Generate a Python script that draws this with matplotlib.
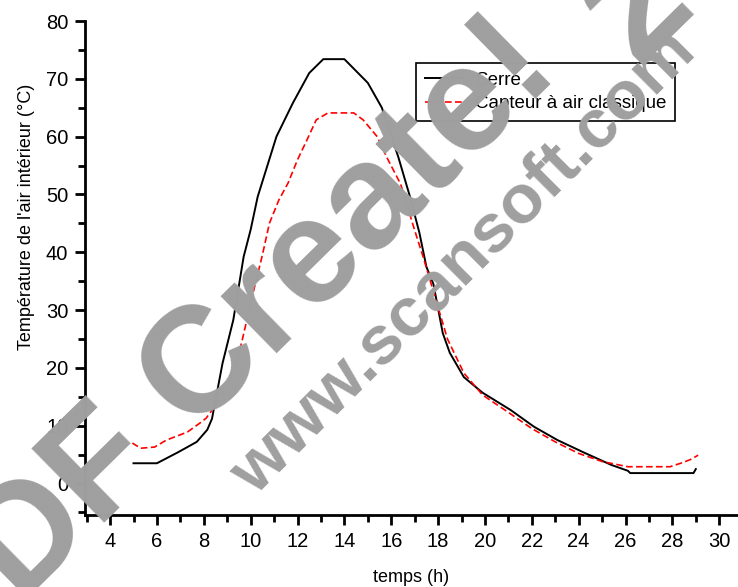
import matplotlib
matplotlib.use('Agg')
import matplotlib.pyplot as plt
from matplotlib.ticker import MultipleLocator

# Serre (courbe noire)
serre_t = [5.0, 6.0, 6.9, 7.7, 8.15, 8.35, 8.8, 9.26, 9.7, 10.0, 10.3, 11.1, 11.8,
           12.5, 13.1, 14.0, 15.0, 15.6, 16.3, 16.8, 17.2, 17.5, 17.8, 18.2, 18.5,
           19.1, 19.9, 21.1, 22.1, 23.1, 24.2, 25.4, 26.1, 26.2, 28.9, 29.0]
serre_T = [3.5, 3.5, 5.4, 7.2, 9.3, 11.2, 20.8, 28.3, 39.2, 43.9, 49.6, 60.0, 65.8,
           71.0, 73.4, 73.4, 69.3, 65.0, 56.5, 49.6, 43.4, 37.5, 34.5, 26.0, 22.6,
           18.4, 15.7, 12.7, 9.8, 7.5, 5.4, 3.2, 2.2, 1.8, 1.8, 2.5]

# Capteur a air classique (courbe rouge)
capteur_t = [4.95, 5.3, 5.9, 6.4, 7.3, 7.85, 8.1, 8.5, 9.0, 9.4, 9.64, 9.77, 10.1,
             10.5, 10.8, 11.2, 11.6, 12.0, 12.4, 12.8, 13.3, 14.4, 14.8, 15.4, 15.8,
             16.4, 17.0, 17.4, 17.8, 18.4, 19.1, 19.9, 21.0, 22.0, 23.0, 24.0, 25.0,
             26.1, 27.9, 28.5, 28.8, 29.1]
capteur_T = [7.0, 6.1, 6.3, 7.5, 8.9, 10.5, 11.3, 13.5, 17.0, 21.0, 24.8, 27.1, 32.9,
             39.5, 45.0, 49.0, 52.0, 56.0, 59.4, 62.9, 64.1, 64.1, 62.9, 60.0, 56.5,
             51.8, 43.8, 38.7, 33.2, 25.0, 19.1, 15.3, 12.3, 9.5, 7.2, 5.2, 3.8,
             2.9, 2.9, 3.7, 4.2, 4.9]

plt.rcParams['font.family'] = ['Liberation Sans', 'DejaVu Sans']

fig = plt.figure(figsize=(7.38, 5.87), dpi=100)
ax = fig.add_axes([85 / 738, 1 - 515 / 587, 653 / 738, 494 / 587])

ax.plot(serre_t, serre_T, color='black', lw=1.4, label='Serre')
ax.plot(capteur_t, capteur_T, color='red', lw=1.2, ls=(0, (4, 2)),
        label='Capteur à air classique')

ax.set_xlim(2.93, 30.8)
ax.set_ylim(-5.45, 80)
ax.set_xticks(range(4, 31, 2))
ax.set_yticks(range(0, 81, 10))
ax.xaxis.set_minor_locator(MultipleLocator(1))
ax.yaxis.set_minor_locator(MultipleLocator(5))

for s in ['top', 'right']:
    ax.spines[s].set_visible(False)
for s in ['left', 'bottom']:
    ax.spines[s].set_linewidth(2)
ax.tick_params(which='major', length=7, width=2, labelsize=14.5, pad=5)
ax.tick_params(which='minor', length=5, width=2)

ax.set_xlabel('temps (h)', fontsize=13)
ax.set_ylabel("Température de l'air intérieur (°C)", fontsize=13)
ax.xaxis.set_label_coords(0.50, -0.109)
ax.yaxis.set_label_coords(-0.077, 0.603)

leg = ax.legend(loc='upper left', bbox_to_anchor=(0.507, 0.915), borderaxespad=0,
                fancybox=False, edgecolor='black', framealpha=1, fontsize=13.5,
                handlelength=2.0, handletextpad=0.7, labelspacing=0.35,
                borderpad=0.45)
leg.get_frame().set_linewidth(1.2)

# filigrane du PDF
wm = dict(weight='bold', color='#9f9f9f', rotation=44.5, rotation_mode='anchor', zorder=10)
fig.text(-51 / 738, 1 - 675 / 587, 'PDF Create!', fontsize=108, ha='left', va='baseline', **wm)
fig.text(640 / 738, 1 - 8 / 587, '2', fontsize=108, ha='center', va='center', **wm)
fig.text(464 / 738, 1 - 262 / 587, 'www.scansoft.com', fontsize=50, ha='center', va='center',
         **dict(wm, rotation=45))

fig.savefig('out.png', dpi=100)
